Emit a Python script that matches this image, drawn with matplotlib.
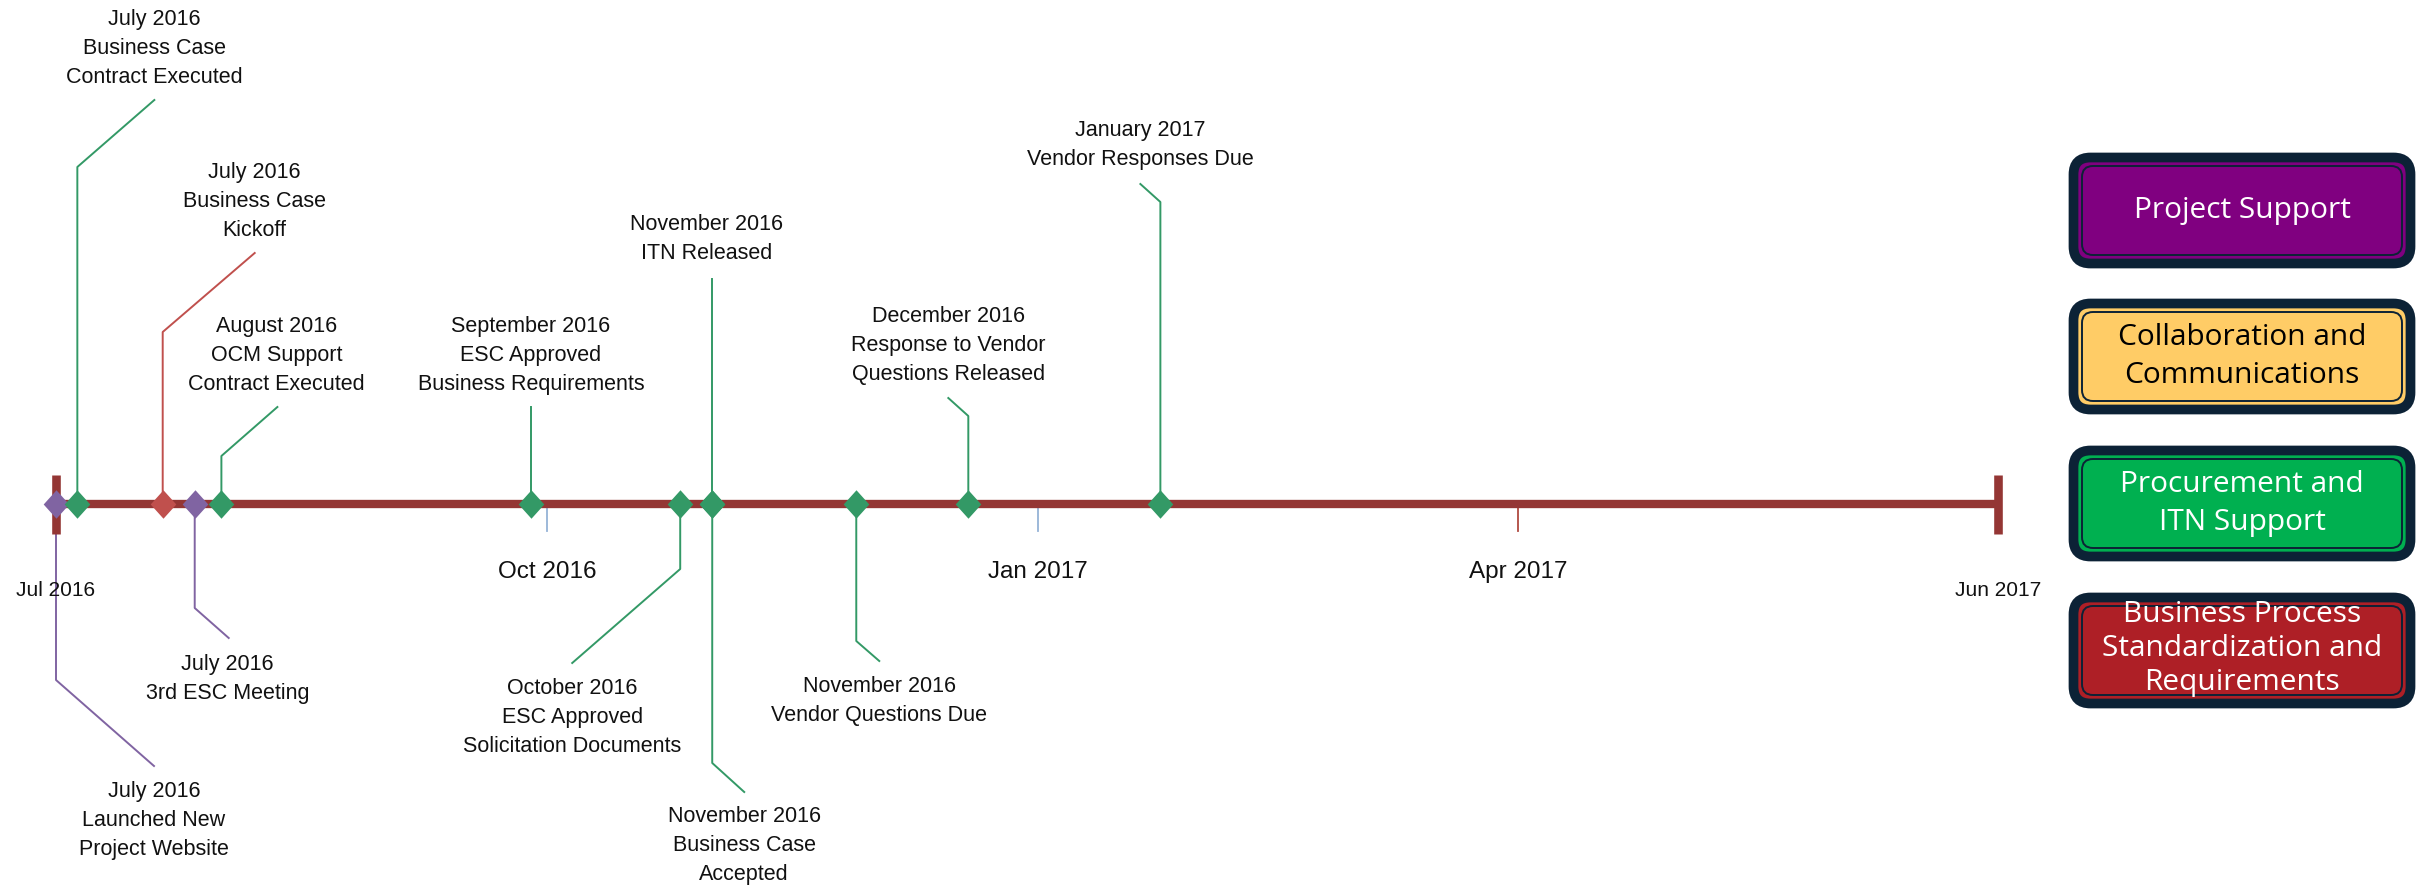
"""Project milestone timeline, Jul 2016 - Jun 2017, with workstream legend boxes."""

import datetime as dt

import matplotlib

matplotlib.use("Agg")
import matplotlib.dates as mdates
import matplotlib.pyplot as plt
from matplotlib.patches import FancyBboxPatch

W, H, DPI = 2423, 885, 100

# ---------- data ----------
milestone_dates = ["2016-07-01", "2016-07-05", "2016-07-21", "2016-07-27", "2016-08-01",
                   "2016-09-28", "2016-10-26", "2016-11-01", "2016-11-01", "2016-11-28",
                   "2016-12-19", "2017-01-24"]
milestone_labels = [
    "July 2016\nLaunched New\nProject Website",
    "July 2016\nBusiness Case\nContract Executed",
    "July 2016\nBusiness Case\nKickoff",
    "July 2016\n3rd ESC Meeting",
    "August 2016\nOCM Support\nContract Executed",
    "September 2016\nESC Approved\nBusiness Requirements",
    "October 2016\nESC Approved\nSolicitation Documents",
    "November 2016\nITN Released",
    "November 2016\nBusiness Case\nAccepted",
    "November 2016\nVendor Questions Due",
    "December 2016\nResponse to Vendor\nQuestions Released",
    "January 2017\nVendor Responses Due",
]
milestone_groups = ["project", "procurement", "business", "project", "procurement",
                    "procurement", "procurement", "procurement", "procurement",
                    "procurement", "procurement", "procurement"]

timeline_start, timeline_end = "2016-07-01", "2017-06-30"
tick_dates = ["2016-07-01", "2016-10-01", "2017-01-01", "2017-04-01", "2017-06-30"]
tick_labels = ["Jul 2016", "Oct 2016", "Jan 2017", "Apr 2017", "Jun 2017"]

legend_keys = ["project", "collab", "procurement", "business"]
legend_labels = ["Project Support", "Collaboration and\nCommunications",
                 "Procurement and\nITN Support",
                 "Business Process\nStandardization and\nRequirements"]

# ---------- styles / layout (pixels) ----------
MARKER_COLORS = {"project": "#8064a2", "procurement": "#339966", "business": "#c0504d"}
BOX_FILL = {"project": "#800080", "collab": "#ffcc66", "procurement": "#00b050",
            "business": "#ae1f26"}
BOX_TEXT = {"project": "white", "collab": "black", "procurement": "white",
            "business": "white"}
NAVY = "#0c2236"
LINE = "#943634"
DIAMOND = [(0, 1), (0.9, 0), (0, -1), (-0.9, 0), (0, 1)]

TL_Y, TL_X0, TL_X1 = 504, 56, 1998
# per milestone: stem end y, elbow dx, elbow y, text dx, text top y
LAYOUT = [
    (680, 98, 766, 98, 781),
    (167, 77, 100, 77, 9),
    (332, 92, 253, 92, 162),
    (608, 34, 638, 33, 654),
    (456, 56, 407, 55, 316),
    (407, 0, 407, 0, 316),
    (569, -108, 663, -108, 678),
    (279, 0, 279, -6, 214),
    (763, 32, 792, 32, 806),
    (641, 23, 661, 23, 676),
    (416, -20, 398, -20, 306),
    (202, -20, 184, -20, 120),
]
TICK_LABEL_Y = [591, 572, 572, 572, 591]
TICK_LABEL_SIZE = [15, 17.5, 17.5, 17.5, 15]
TICK_COLORS = [None, "#95b3d7", "#95b3d7", "#b04a40", None]
BOX_X0, BOX_X1 = 2069, 2415
BOX_TOPS = [153, 299, 446, 593]
BOX_H = 115
BOX_TEXT_DY = [0, 0, 0, -2]


def d2n(s):
    return mdates.date2num(dt.datetime.strptime(s, "%Y-%m-%d"))


def main():
    fig = plt.figure(figsize=(W / DPI, H / DPI), dpi=DPI)
    ax = fig.add_axes([0, 0, 1, 1])
    n0, n1 = d2n(timeline_start), d2n(timeline_end)
    k = (n1 - n0) / (TL_X1 - TL_X0)  # days per pixel
    ax.set_xlim(n0 - TL_X0 * k, n0 + (W - TL_X0) * k)
    ax.set_ylim(H, 0)
    ax.axis("off")

    # leader lines + labels
    for date, grp, (sy, edx, ey, tdx, ty), lab in zip(milestone_dates, milestone_groups,
                                                      LAYOUT, milestone_labels):
        x = d2n(date)
        c = MARKER_COLORS[grp]
        ax.plot([x, x, x + edx * k], [TL_Y, sy, ey], color=c, lw=1.4, zorder=2)
        ax.text(x + tdx * k, ty, lab, ha="center", va="top", fontsize=15.5,
                family="Liberation Sans", linespacing=1.5, color="#111111")

    # timeline + end caps + ticks
    ax.plot([n0, n1], [TL_Y, TL_Y], color=LINE, lw=6, solid_capstyle="butt", zorder=3)
    for n in (n0, n1):
        ax.plot([n, n], [475, 534], color=LINE, lw=6.2, solid_capstyle="butt", zorder=3)
    for td, tl, ly, fs, tc in zip(tick_dates, tick_labels, TICK_LABEL_Y,
                                  TICK_LABEL_SIZE, TICK_COLORS):
        x = d2n(td)
        if tc:
            ax.plot([x, x], [TL_Y, 531], color=tc, lw=1.3, zorder=2)
        ax.text(x, ly, tl, ha="center", va="center", fontsize=fs,
                family="Liberation Sans", color="#111111")

    # diamonds
    for grp in MARKER_COLORS:
        xs = [d2n(d) for d, g in zip(milestone_dates, milestone_groups) if g == grp]
        ax.plot(xs, [TL_Y] * len(xs), ls="none", marker=DIAMOND, ms=20.5,
                color=MARKER_COLORS[grp], mew=0, zorder=5)

    # legend boxes
    lx = fig.add_axes([0, 0, 1, 1])
    lx.set_xlim(0, W)
    lx.set_ylim(H, 0)
    lx.axis("off")
    for key, lab, top, tdy in zip(legend_keys, legend_labels, BOX_TOPS, BOX_TEXT_DY):
        w = BOX_X1 - BOX_X0
        lx.add_patch(FancyBboxPatch((BOX_X0 + 4.5, top + 4.5), w - 9, BOX_H - 9,
                                    boxstyle="round,pad=0,rounding_size=17",
                                    fc=BOX_FILL[key], ec=NAVY, lw=7))
        lx.add_patch(FancyBboxPatch((BOX_X0 + 13, top + 13), w - 26, BOX_H - 26,
                                    boxstyle="round,pad=0,rounding_size=11",
                                    fc="none", ec=NAVY, lw=1.4))
        nlines = lab.count("\n") + 1
        lx.text((BOX_X0 + BOX_X1) / 2, top + BOX_H / 2 + tdy, lab, ha="center",
                va="center", fontsize=21.5, family="Open Sans", color=BOX_TEXT[key],
                linespacing=1.4 if nlines == 2 else 1.22)

    fig.savefig("out.png", dpi=DPI)
    plt.close(fig)


if __name__ == "__main__":
    main()
